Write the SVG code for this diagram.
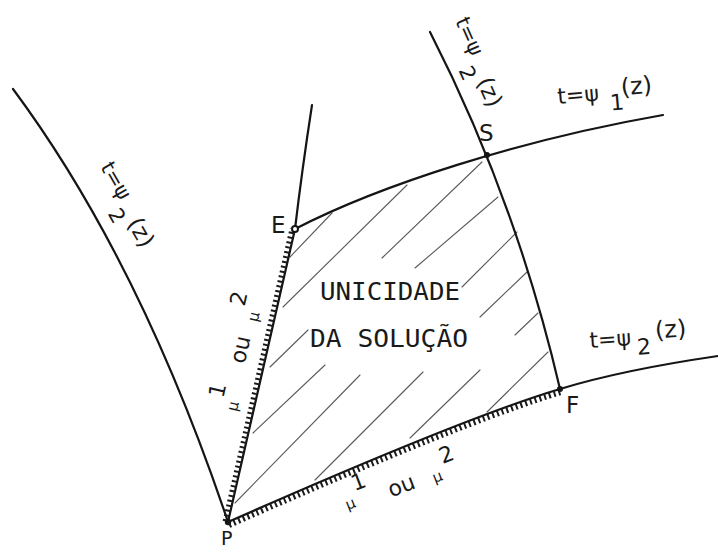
<svg xmlns="http://www.w3.org/2000/svg" width="718" height="553" viewBox="0 0 718 553">
<style>
.c{fill:none;stroke:#151515;stroke-width:2.2;stroke-linecap:round}
.h{fill:none;stroke:#5a5a5a;stroke-width:1.1;stroke-linecap:round}
.tk{fill:none;stroke:#1a1a1a;stroke-width:6}
.pt{fill:#151515}
.t{font-family:"DejaVu Sans","Liberation Sans",sans-serif;fill:#1a1a1a}
.m{font-family:"DejaVu Sans Mono","Liberation Mono",monospace;fill:#1a1a1a;font-size:25px}
</style>
<rect width="718" height="553" fill="#fff"/>
<g id="hatch-lines">
<path class="h" d="M290,257L332,213M283,307L407,185M382,258L482,162M415,268L498,197M462,287L517,232M480,317L527,272M515,335L538,313M270,367L308,330M253,433L325,365M235,503L360,375M315,480L423,372M410,438L480,370M487,412L548,352"/>
</g>
<g id="connectors">
<path id="curve-left" class="c" d="M13,89 Q140,260 228,522" stroke-width="2"/>
<path id="curve-PE" class="c" d="M228,522 L295,229 Q302,170 312,105"/>
<path id="curve-ES" class="c" d="M295,229 C380,185 520,140 663,115"/>
<path id="curve-SF" class="c" d="M430,32 Q516,200 560,389"/>
<path id="curve-PF" class="c" d="M228,522 Q466,417 560,389 Q622,370 718,356"/>
<path id="ticks-PE" class="tk" d="M225.6,521.4 L292.6,228.4" stroke-width="5.5" stroke-dasharray="2 3"/>
<path id="ticks-PF" class="tk" d="M229,525 Q467,420 561,392" stroke-dasharray="2 3"/>
</g>
<g id="E"><circle cx="295" cy="229" r="3" fill="#fff" stroke="#151515" stroke-width="2"/><text class="t" x="271" y="233" font-size="23">E</text></g>
<g id="S"><circle class="pt" cx="487" cy="155" r="3"/><text class="t" x="479" y="141" font-size="23">S</text></g>
<g id="F"><circle class="pt" cx="560" cy="389" r="3"/><text class="t" x="566" y="413" font-size="23">F</text></g>
<g id="P"><circle class="pt" cx="228" cy="522" r="3.2"/><text class="t" x="221" y="545" font-size="19">P</text></g>
<g id="region-label">
<text class="m" x="320" y="300" textLength="140" lengthAdjust="spacingAndGlyphs">UNICIDADE</text>
<text class="m" x="310" y="347" textLength="158" lengthAdjust="spacingAndGlyphs">DA SOLUÇÃO</text>
</g>
<g id="label-psi1" class="t" font-size="22" transform="rotate(-5 558 104)">
<text x="558" y="104">t=ψ</text><text x="610" y="115">1</text><text x="622" y="101" font-size="24">(z)</text>
</g>
<g id="label-psi2-right" class="t" font-size="22" transform="rotate(-4 590 348)">
<text x="590" y="348">t=ψ</text><text x="637" y="358">2</text><text x="656" y="343" font-size="24">(z)</text>
</g>
<g id="label-psi2-left" class="t" font-size="21" transform="translate(100,167) rotate(60)">
<text x="0" y="0">t=ψ</text><text x="44" y="17">2</text><text x="62" y="5" font-size="23">(z)</text>
</g>
<g id="label-psi2-top" class="t" font-size="21" transform="translate(455,21) rotate(66)">
<text x="0" y="0">t=ψ</text><text x="46" y="17">2</text><text x="64" y="5" font-size="23">(z)</text>
</g>
<g id="label-mu-PE" class="t" transform="translate(240,420) rotate(-77)">
<text x="7" y="-5" font-size="15">μ</text><text x="17" y="-21" font-size="22">1</text>
<text x="55" y="-8" font-size="22">ou</text>
<text x="99" y="-5" font-size="15">μ</text><text x="111" y="-21" font-size="22">2</text>
</g>
<g id="label-mu-PF" class="t" transform="translate(340,515) rotate(-21)">
<text x="9" y="-2" font-size="15">μ</text><text x="22" y="-17" font-size="22">1</text>
<text x="54" y="2" font-size="22">ou</text>
<text x="100" y="4" font-size="15">μ</text><text x="114" y="-11" font-size="22">2</text>
</g>
</svg>
